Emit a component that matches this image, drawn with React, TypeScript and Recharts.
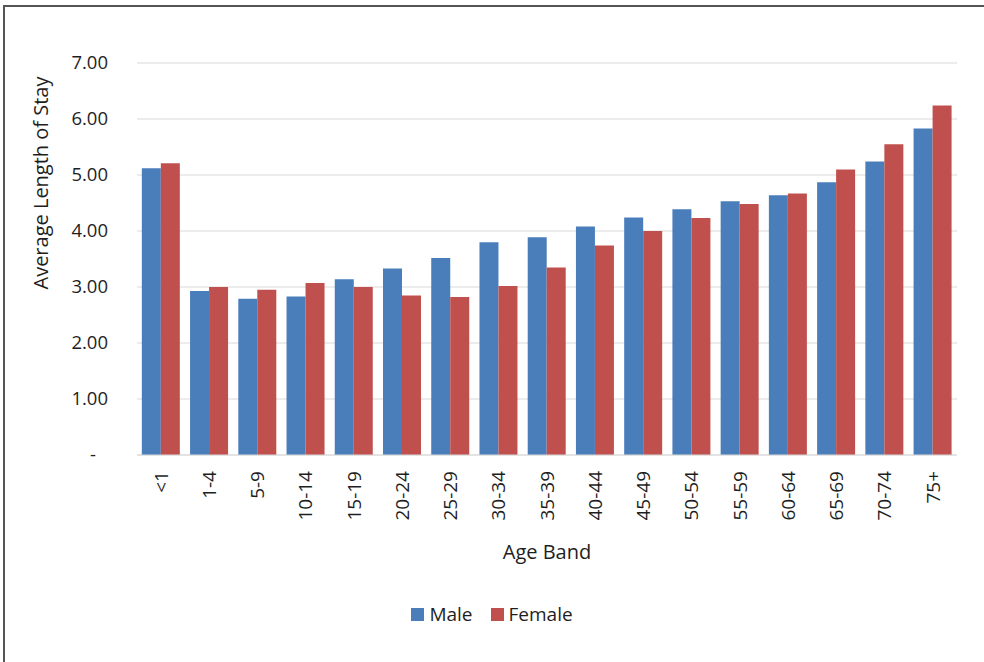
import { Bar, BarChart, CartesianGrid, Label, Legend, XAxis, YAxis } from 'recharts'

const AGE_BANDS = ['<1', '1-4', '5-9', '10-14', '15-19', '20-24', '25-29', '30-34', '35-39', '40-44', '45-49', '50-54', '55-59', '60-64', '65-69', '70-74', '75+']
const MALE = [5.12, 2.93, 2.79, 2.83, 3.14, 3.33, 3.52, 3.8, 3.89, 4.08, 4.24, 4.39, 4.53, 4.64, 4.87, 5.24, 5.83]
const FEMALE = [5.21, 3.0, 2.95, 3.07, 3.0, 2.85, 2.82, 3.02, 3.35, 3.74, 4.0, 4.23, 4.48, 4.67, 5.1, 5.55, 6.24]
const Y_TICKS = [0, 1, 2, 3, 4, 5, 6, 7]

const MALE_COLOR = '#4a7ebb'
const FEMALE_COLOR = '#c0504d'
const FONT = '"Open Sans", "Noto Sans", sans-serif'
const TEXT_COLOR = '#1e1e1e'

const data = AGE_BANDS.map((band, i) => ({ band, male: MALE[i], female: FEMALE[i] }))

const YTick = (props: any) => {
  const { x, y, payload } = props
  const isZero = payload.value === 0
  return (
    <text
      x={x - 21 - (isZero ? 12 : 0)}
      y={y}
      dy="0.35em"
      textAnchor="end"
      fill={TEXT_COLOR}
      fontSize={18.5}
      fontFamily={FONT}
    >
      {isZero ? '-' : Number(payload.value).toFixed(2)}
    </text>
  )
}

const XTick = (props: any) => {
  const { x, y, payload } = props
  const ty = y + 8
  return (
    <text
      x={x}
      y={ty}
      dy="0.35em"
      transform={`rotate(-90, ${x}, ${ty})`}
      textAnchor="end"
      fill={TEXT_COLOR}
      fontSize={19}
      fontFamily={FONT}
    >
      {payload.value}
    </text>
  )
}

const renderLegend = () => (
  <div
    style={{
      display: 'flex',
      justifyContent: 'center',
      gap: 18,
      fontFamily: FONT,
      fontSize: 19,
      color: TEXT_COLOR,
    }}
  >
    {[
      { label: 'Male', color: MALE_COLOR },
      { label: 'Female', color: FEMALE_COLOR },
    ].map((item) => (
      <span key={item.label} style={{ display: 'inline-flex', alignItems: 'center', gap: 5 }}>
        <span style={{ width: 13, height: 13, background: item.color, display: 'inline-block' }} />
        {item.label}
      </span>
    ))}
  </div>
)

export default function App() {
  return (
    <div style={{ position: 'absolute', left: 0, top: 0, width: 984, height: 662, background: '#fff' }}>
      <div
        style={{
          position: 'absolute',
          left: 3,
          top: 5,
          right: 0,
          bottom: 0,
          borderTop: '2px solid #555',
          borderLeft: '2px solid #555',
          pointerEvents: 'none',
        }}
      />
      <BarChart
        width={984}
        height={662}
        data={data}
        margin={{ top: 63, right: 27, bottom: 0, left: 57 }}
        barCategoryGap="10%"
        barGap={0}
      >
        <CartesianGrid vertical={false} stroke="#d9d9d9" strokeWidth={1.2} />
        <XAxis
          dataKey="band"
          height={207}
          tick={<XTick />}
          tickLine={false}
          axisLine={{ stroke: '#d9d9d9', strokeWidth: 1.2 }}
          interval={0}
        >
          <Label
            value="Age Band"
            position="insideTop"
            offset={90}
            fill={TEXT_COLOR}
            fontSize={20}
            fontFamily={FONT}
          />
        </XAxis>
        <YAxis
          width={80}
          domain={[0, 7]}
          ticks={Y_TICKS}
          tick={<YTick />}
          tickLine={false}
          axisLine={false}
        >
          <Label
            content={() => (
              <text
                x={41}
                y={183}
                dy="0.35em"
                transform="rotate(-90, 41, 183)"
                textAnchor="middle"
                fill={TEXT_COLOR}
                fontSize={20}
                fontFamily={FONT}
              >
                Average Length of Stay
              </text>
            )}
          />
        </YAxis>
        <Legend
          layout="horizontal"
          verticalAlign="middle"
          content={renderLegend}
          wrapperStyle={{ top: 601, left: 0, width: 984 }}
        />
        <Bar dataKey="male" name="Male" fill={MALE_COLOR} isAnimationActive={false} />
        <Bar dataKey="female" name="Female" fill={FEMALE_COLOR} isAnimationActive={false} />
      </BarChart>
    </div>
  )
}
